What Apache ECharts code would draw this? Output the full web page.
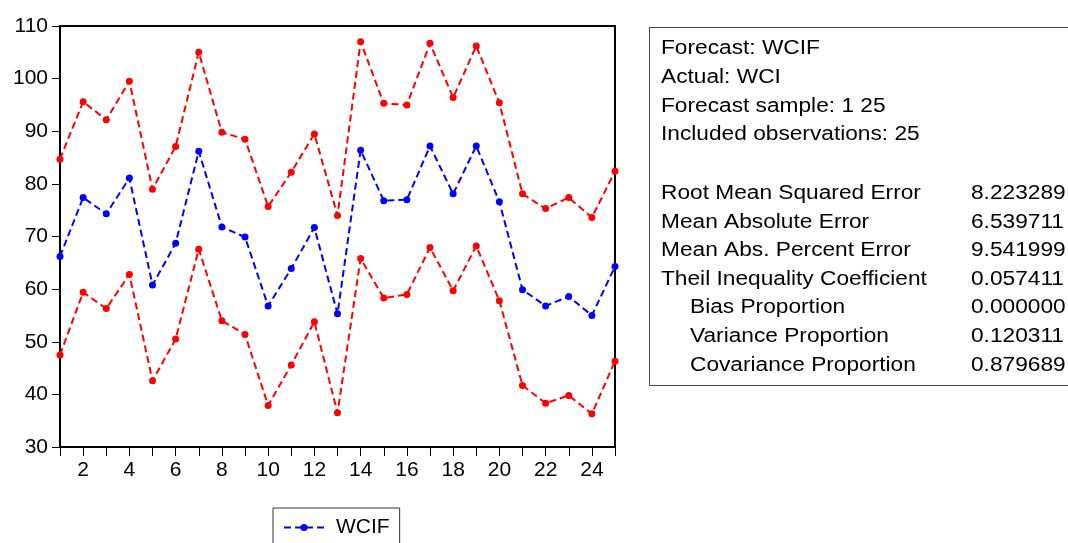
<!DOCTYPE html>
<html>
<head>
<meta charset="utf-8">
<script src="https://cdn.jsdelivr.net/npm/echarts@6/dist/echarts.min.js"></script>
<style>
  html, body { margin: 0; padding: 0; background: #fff; }
  #chart { width: 1068px; height: 543px; }
</style>
</head>
<body>
<div id="chart"></div>
<script>
// Observation index 1..25
const periods = ['1','2','3','4','5','6','7','8','9','10','11','12','13','14','15','16','17','18','19','20','21','22','23','24','25'];

// Forecast WCIF
const forecast = [66.2, 77.4, 74.3, 81.1, 60.8, 68.7, 86.2, 71.8, 69.9, 56.8, 63.9, 71.7, 55.3,
                  86.4, 76.8, 77.0, 87.2, 78.1, 87.2, 76.6, 59.9, 56.8, 58.6, 55.0, 64.3];

// Upper and lower forecast bands (± 2 S.E.)
const upperBand = [84.7, 95.6, 92.2, 99.5, 79.0, 87.1, 105.0, 89.8, 88.5, 75.7, 82.2, 89.5, 74.0,
                   107.0, 95.3, 95.0, 106.7, 96.4, 106.2, 95.4, 78.1, 75.3, 77.4, 73.6, 82.4];
const lowerBand = [47.5, 59.4, 56.3, 62.8, 42.6, 50.5, 67.6, 54.0, 51.4, 37.9, 45.6, 53.8, 36.5,
                   65.8, 58.3, 59.0, 67.9, 59.7, 68.2, 57.8, 41.7, 38.3, 39.8, 36.3, 46.3];

// Forecast evaluation summary
const headerLines = ['Forecast: WCIF', 'Actual: WCI', 'Forecast sample: 1 25', 'Included observations: 25'];
const statLabels = ['Root Mean Squared Error', 'Mean Absolute Error', 'Mean Abs. Percent Error',
                    'Theil Inequality Coefficient', 'Bias Proportion', 'Variance Proportion', 'Covariance Proportion'];
const statValues = ['8.223289', '6.539711', '9.541999', '0.057411', '0.000000', '0.120311', '0.879689'];
const statIndent = [false, false, false, false, true, true, true];

const FONT = '"Liberation Sans", Arial, sans-serif';
const BOX_FONT = '20px ' + FONT;
const BOX_STRETCH = 1.135;

const chart = echarts.init(document.getElementById('chart'), null, { renderer: 'canvas' });

function dashedSeries(name, data, color) {
  return {
    name: name,
    type: 'line',
    data: data,
    symbol: 'circle',
    symbolSize: 7,
    showSymbol: true,
    animation: false,
    itemStyle: { color: color },
    lineStyle: { color: color, width: 2, type: [7, 4] },
    emphasis: { disabled: true },
    z: 3
  };
}

function boxText(text, x, y) {
  return {
    type: 'text',
    x: x, y: y,
    scaleX: BOX_STRETCH,
    style: { text: text, x: 0, y: 0, font: BOX_FONT, fill: '#000', verticalAlign: 'middle' },
    silent: true
  };
}

// Summary box drawn on the right
const graphics = [{
  type: 'rect',
  shape: { x: 649.5, y: 27.5, width: 440, height: 358 },
  style: { fill: '#fff', stroke: '#444', lineWidth: 1 },
  silent: true
}];
headerLines.forEach((t, i) => graphics.push(boxText(t, 661, 48.5 + i * 28.8)));
statLabels.forEach((t, i) => {
  const y = 193.5 + i * 28.6;
  graphics.push(boxText(t, statIndent[i] ? 690 : 661, y));
  graphics.push(boxText(statValues[i], 971, y));
});

chart.setOption({
  backgroundColor: '#fff',
  animation: false,
  grid: {
    left: 60, top: 26, width: 555, height: 421,
    show: true, borderColor: '#000', borderWidth: 2,
    outerBoundsMode: 'none'
  },
  xAxis: {
    type: 'category',
    data: periods,
    boundaryGap: false,
    axisLine: { lineStyle: { color: '#000', width: 2 } },
    axisTick: { show: true, inside: false, length: 9, interval: 0, lineStyle: { color: '#000', width: 1 } },
    axisLabel: {
      interval: (idx) => idx % 2 === 1,
      color: '#000', fontSize: 21, fontFamily: FONT, margin: 13
    },
    splitLine: { show: false }
  },
  yAxis: {
    type: 'value',
    min: 30, max: 110, interval: 10,
    axisLine: { show: true, lineStyle: { color: '#000', width: 2 } },
    axisTick: { show: true, inside: false, length: 8, lineStyle: { color: '#000', width: 1 } },
    axisLabel: { color: '#000', fontSize: 21, fontFamily: FONT, margin: 12 },
    splitLine: { show: false }
  },
  legend: {
    data: ['WCIF'],
    left: 273, top: 508,
    borderColor: '#333', borderWidth: 1,
    padding: [9, 10, 9, 10],
    itemWidth: 40, itemHeight: 9,
    textStyle: { color: '#000', fontSize: 21, fontFamily: FONT, padding: [0, 0, 0, 7] },
    selectedMode: false
  },
  tooltip: { show: false },
  series: [
    dashedSeries('WCIF', forecast, '#0000ff'),
    dashedSeries('Upper', upperBand, '#ff0000'),
    dashedSeries('Lower', lowerBand, '#ff0000')
  ],
  graphic: graphics
});
</script>
</body>
</html>
